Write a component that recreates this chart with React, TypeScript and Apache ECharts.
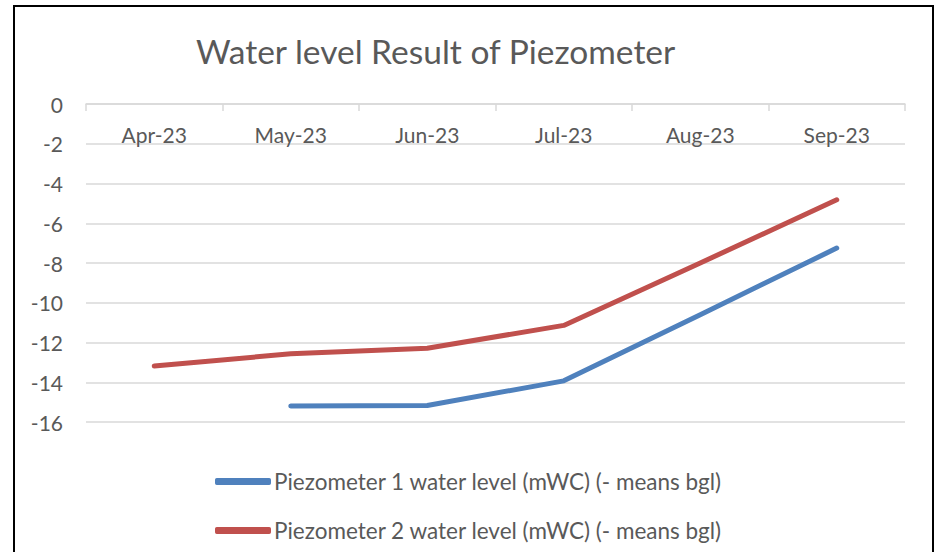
import React, { useEffect, useRef } from "react";
import * as echarts from "echarts";

const categories = ["Apr-23", "May-23", "Jun-23", "Jul-23", "Aug-23", "Sep-23"];
const piezo1 = [null, -15.2, -15.17, -13.93, -10.6, -7.25];
const piezo2 = [-13.18, -12.57, -12.29, -11.14, -8.0, -4.82];
const seriesNames = [
  "Piezometer 1 water level (mWC) (- means bgl)",
  "Piezometer 2 water level (mWC) (- means bgl)",
];
const titleText = "Water level Result of Piezometer";

const FONT = "Lato, 'Open Sans', sans-serif";
const GREY = "#595959";

export default function App() {
  const ref = useRef<HTMLDivElement>(null);
  useEffect(() => {
    if (!ref.current) return;
    const chart = echarts.init(ref.current, undefined, { renderer: "svg" });
    chart.setOption({
      animation: false,
      backgroundColor: "#ffffff",
      title: {
        text: titleText,
        left: 196,
        top: 34,
        padding: 0,
        textStyle: { fontFamily: FONT, fontSize: 33.5, fontWeight: "normal", color: GREY },
      },
      grid: { left: 86, right: 30, top: 104, bottom: 130, containLabel: false },
      xAxis: {
        type: "category",
        data: categories,
        position: "top",
        boundaryGap: true,
        axisLine: { show: true, lineStyle: { color: "#d9d9d9", width: 1.5 } },
        axisTick: { show: true, inside: true, length: 7, lineStyle: { color: "#d9d9d9", width: 1.5 } },
        axisLabel: { inside: true, margin: 20, fontFamily: FONT, fontSize: 21, color: GREY },
        splitLine: { show: false },
      },
      yAxis: {
        type: "value",
        min: -16,
        max: 0,
        interval: 2,
        axisLine: { show: false },
        axisTick: { show: false },
        axisLabel: { margin: 23, fontFamily: FONT, fontSize: 21, color: GREY },
        splitLine: { lineStyle: { color: "#d9d9d9", width: 1.5 } },
      },
      legend: {
        orient: "vertical",
        left: 215,
        top: 470,
        padding: 0,
        itemGap: 26,
        itemWidth: 56,
        itemHeight: 7,
        icon: "roundRect",
        textStyle: { fontFamily: FONT, fontSize: 22.5, color: GREY, padding: [0, 0, 0, -2] },
        data: seriesNames,
      },
      series: [
        {
          name: seriesNames[0],
          type: "line",
          data: piezo1,
          symbol: "none",
          connectNulls: false,
          lineStyle: { color: "#4f81bd", width: 5, cap: "round", join: "round" },
          itemStyle: { color: "#4f81bd" },
        },
        {
          name: seriesNames[1],
          type: "line",
          data: piezo2,
          symbol: "none",
          lineStyle: { color: "#c0504d", width: 5, cap: "round", join: "round" },
          itemStyle: { color: "#c0504d" },
        },
      ],
      graphic: [
        {
          type: "rect",
          shape: { x: 14, y: 6, width: 919, height: 570 },
          style: { fill: "none", stroke: "#000000", lineWidth: 2 },
          silent: true,
        },
      ],
    });
    return () => chart.dispose();
  }, []);
  return (
    <div
      ref={ref}
      style={{ position: "fixed", left: 0, top: 0, width: 935, height: 552, background: "#fff" }}
    />
  );
}
